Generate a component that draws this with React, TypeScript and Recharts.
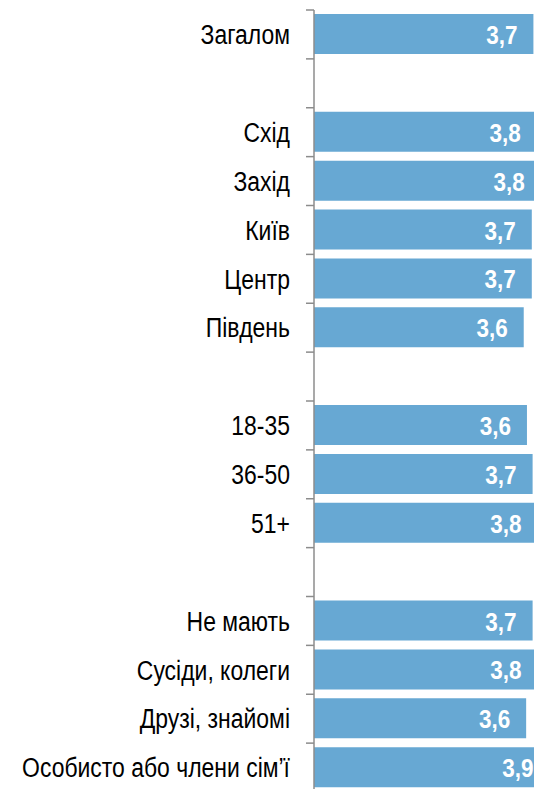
import * as React from "react"
import { BarChart, Bar, XAxis, YAxis, LabelList } from "recharts"

// blank entries are the spacer rows between groups
const categories = [
    "Загалом", " ",
    "Схід", "Захід", "Київ", "Центр", "Південь", "  ",
    "18-35", "36-50", "51+", "   ",
    "Не мають", "Сусіди, колеги", "Друзі, знайомі", "Особисто або члени сім’ї",
]
const values: (number | null)[] = [
    3.72, null,
    3.76, 3.81, 3.70, 3.70, 3.60, null,
    3.64, 3.71, 3.77, null,
    3.71, 3.77, 3.63, 3.92,
]

const chartData = categories.map((name, i) => ({ name, value: values[i] }))

const AXIS_COLOR = "#8c8c8c"
const BAR_COLOR = "#67a8d3"
const FONT = "'Liberation Sans', Arial, sans-serif"

// no narrow font available, so squeeze the regular one
const CategoryTick = (props: any) => {
    const { x, y, payload } = props
    const half = payload?.offset ?? 0
    return (
        <g>
            <line x1={x - 8} x2={x} y1={y - half} y2={y - half} stroke={AXIS_COLOR} strokeWidth={1.5} />
            <text
                transform={`translate(${x - 24},${y}) scale(0.85,1)`}
                dy="0.36em"
                textAnchor="end"
                fontFamily={FONT}
                fontSize={27}
                fill="#000"
            >
                {String(payload.value).trim()}
            </text>
        </g>
    )
}

const ValueLabel = (props: any) => {
    const { x, y, width, height, value } = props
    if (value == null) return null
    return (
        <text
            transform={`translate(${x + width - 16},${y + height / 2 + 1}) scale(0.9,1)`}
            dy="0.36em"
            textAnchor="end"
            fontFamily={FONT}
            fontWeight="bold"
            fontSize={25}
            fill="#fff"
        >
            {Number(value).toFixed(1).replace(".", ",")}
        </text>
    )
}

export default function App() {
    return (
        <div style={{ position: "absolute", left: 0, top: 0, width: 534, height: 789, overflow: "hidden", background: "#fff" }}>
            <BarChart
                width={556}
                height={792}
                data={chartData}
                layout="vertical"
                margin={{ top: 10, right: 0, bottom: 0, left: 0 }}
            >
                <XAxis type="number" domain={[1, 4]} hide />
                <YAxis
                    type="category"
                    dataKey="name"
                    width={314}
                    interval={0}
                    tickLine={false}
                    tickSize={0}
                    tickMargin={0}
                    axisLine={{ stroke: AXIS_COLOR, strokeWidth: 1.5 }}
                    tick={<CategoryTick />}
                />
                <Bar dataKey="value" fill={BAR_COLOR} barSize={40} isAnimationActive={false}>
                    <LabelList dataKey="value" content={<ValueLabel />} />
                </Bar>
            </BarChart>
        </div>
    )
}
